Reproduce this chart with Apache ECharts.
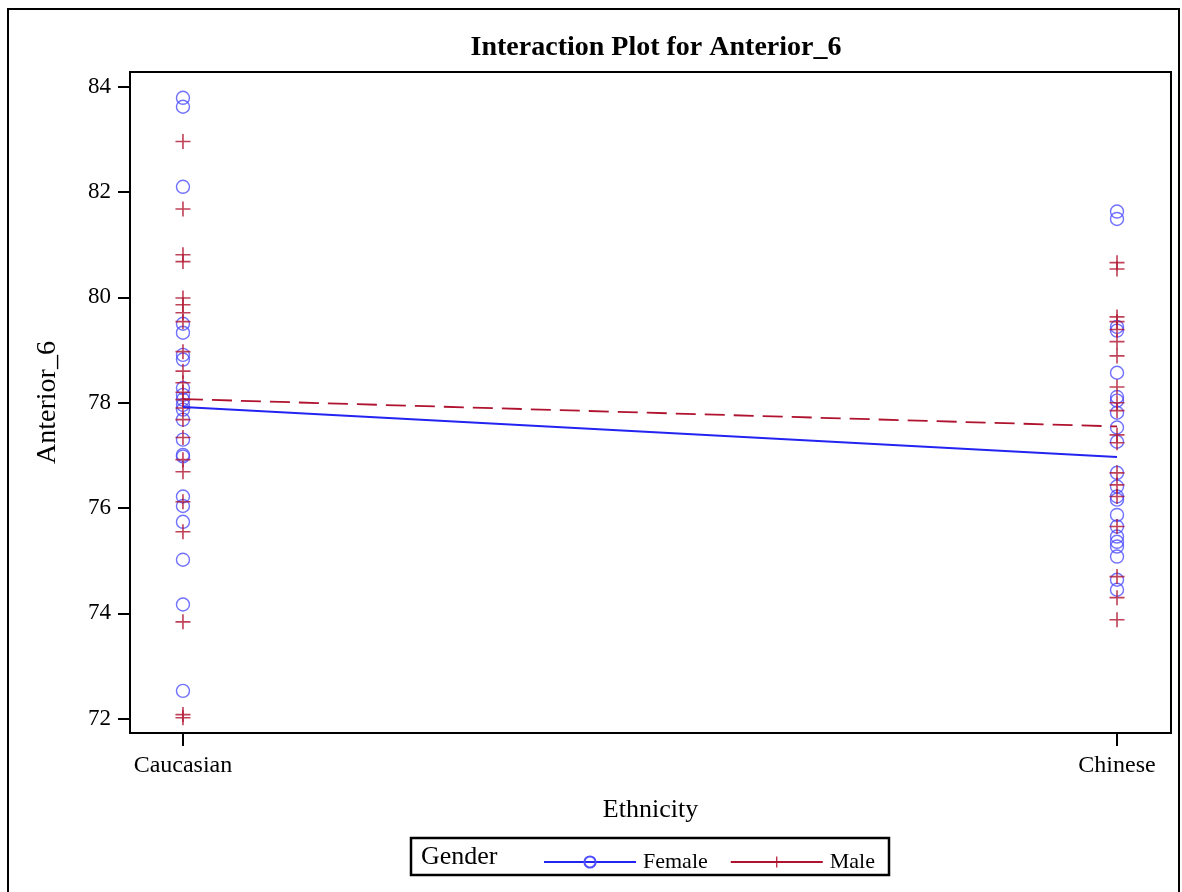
<!DOCTYPE html>
<html>
<head>
<meta charset="utf-8">
<script src="https://cdn.jsdelivr.net/npm/echarts@6/dist/echarts.min.js"></script>
<style>
  html, body { margin: 0; padding: 0; background: #fff; }
  #chart { width: 1182px; height: 892px; }
</style>
</head>
<body>
<div id="chart"></div>
<script>
const ethnicities = ['Caucasian', 'Chinese']
const yTicks = [72, 74, 76, 78, 80, 82, 84]

const femaleCaucasian = [83.79, 83.62, 82.10, 79.50, 79.33, 78.91, 78.82, 78.28, 78.15, 78.06, 77.96,
    77.87, 77.68, 77.30, 77.01, 76.98, 76.22, 76.04, 75.74, 75.02, 74.17, 72.53]
const femaleChinese = [81.63, 81.49, 79.44, 79.37, 78.57, 78.11, 78.04, 77.81, 77.53, 77.26, 76.67,
    76.41, 76.22, 76.16, 75.87, 75.65, 75.46, 75.36, 75.27, 75.08, 74.64, 74.45]
const maleCaucasian = [82.96, 81.68, 80.81, 80.68, 79.99, 79.86, 79.71, 79.54, 78.97, 78.60, 78.38,
    78.20, 78.06, 77.90, 77.68, 77.34, 76.92, 76.69, 76.12, 75.55, 73.84, 72.08, 72.02]
const maleChinese = [80.66, 80.54, 79.63, 79.54, 79.39, 79.16, 78.89, 78.30, 78.00, 77.85, 77.39,
    77.24, 76.67, 76.44, 76.22, 75.65, 74.70, 74.30, 73.88]

// group means (lines)
const femaleMeans = [77.92, 76.97]
const maleMeans = [78.07, 77.55]

const BLUE = '#2323f2'
const BLUE_PT = '#4d4dff'
const RED = '#b0132f'
const FONT = '"Liberation Serif", "DejaVu Serif", serif'
// filled thin cross, scales cleanly at any symbolSize
const PLUS = 'path://M5.35,0 H6.65 V5.35 H12 V6.65 H6.65 V12 H5.35 V6.65 H0 V5.35 H5.35 Z'

const pts = (idx, vals) => vals.map(v => [idx, v])

const chart = echarts.init(document.getElementById('chart'))

chart.setOption({
    animation: false,
    backgroundColor: '#fff',
    title: {
        text: 'Interaction Plot for Anterior_6',
        left: 651,
        textAlign: 'center',
        top: 29,
        textStyle: { fontFamily: FONT, fontSize: 28, fontWeight: 'bold', color: '#000' }
    },
    grid: {
        left: 130, top: 72, right: 11, bottom: 159,
        show: true, borderColor: '#000', borderWidth: 2, backgroundColor: 'transparent'
    },
    xAxis: {
        type: 'value',
        min: -0.0567,
        max: 1.0578,
        name: 'Ethnicity',
        nameLocation: 'middle',
        nameGap: 64,
        nameTextStyle: { fontFamily: FONT, fontSize: 26, color: '#000' },
        splitLine: { show: false },
        axisLine: { show: true, onZero: false, lineStyle: { color: '#000', width: 2 } },
        axisTick: { show: true, customValues: [0, 1], length: 13, lineStyle: { color: '#000', width: 2 } },
        axisLabel: {
            customValues: [0, 1],
            formatter: v => ethnicities[Math.round(v)],
            fontFamily: FONT, fontSize: 24, color: '#000', margin: 21
        }
    },
    yAxis: {
        type: 'value',
        min: 71.73,
        max: 84.28,
        name: 'Anterior_6',
        nameLocation: 'middle',
        nameGap: 68,
        nameTextStyle: { fontFamily: FONT, fontSize: 28, color: '#000' },
        splitLine: { show: false },
        axisLine: { show: true, onZero: false, lineStyle: { color: '#000', width: 2 } },
        axisTick: { show: true, customValues: yTicks, length: 12, lineStyle: { color: '#000', width: 2 } },
        axisLabel: {
            customValues: yTicks,
            fontFamily: FONT, fontSize: 23, color: '#000', margin: 19
        }
    },
    legend: {
        left: 538,
        top: 846,
        itemWidth: 92,
        itemHeight: 14,
        itemGap: 22,
        data: ['Female', 'Male'],
        lineStyle: { type: 'solid' },
        textStyle: { fontFamily: FONT, fontSize: 22, color: '#000', padding: [0, 0, 0, 2] }
    },
    graphic: [
        {
            type: 'rect',
            shape: { x: 8, y: 9, width: 1171, height: 900 },
            style: { fill: 'none', stroke: '#000', lineWidth: 2 },
            silent: true
        },
        {
            type: 'rect',
            shape: { x: 411, y: 838, width: 478, height: 37 },
            style: { fill: 'none', stroke: '#000', lineWidth: 2.5 },
            silent: true
        },
        {
            type: 'text',
            left: 421,
            top: 844,
            style: { text: 'Gender', font: '26px ' + FONT, fill: '#000' }
        }
    ],
    series: [
        {
            name: 'Female',
            type: 'line',
            data: pts(0, [femaleMeans[0]]).concat(pts(1, [femaleMeans[1]])),
            showSymbol: false,
            symbol: 'circle',
            symbolSize: 12,
            itemStyle: { color: 'transparent', borderColor: BLUE_PT, borderWidth: 1.5 },
            lineStyle: { color: BLUE, width: 1.8 },
            z: 3
        },
        {
            name: 'Male',
            type: 'line',
            data: pts(0, [maleMeans[0]]).concat(pts(1, [maleMeans[1]])),
            showSymbol: false,
            symbol: PLUS,
            symbolSize: 13,
            itemStyle: { color: RED },
            lineStyle: { color: RED, width: 1.8, type: [20, 9] },
            z: 3
        },
        {
            name: 'Female',
            type: 'scatter',
            data: pts(0, femaleCaucasian).concat(pts(1, femaleChinese)),
            symbol: 'circle',
            symbolSize: 13,
            itemStyle: { color: 'transparent', borderColor: BLUE_PT, borderWidth: 1.4 },
            z: 2
        },
        {
            name: 'Male',
            type: 'scatter',
            data: pts(0, maleCaucasian).concat(pts(1, maleChinese)),
            symbol: PLUS,
            symbolSize: 15,
            itemStyle: { color: RED },
            z: 2
        }
    ]
})
</script>
</body>
</html>
